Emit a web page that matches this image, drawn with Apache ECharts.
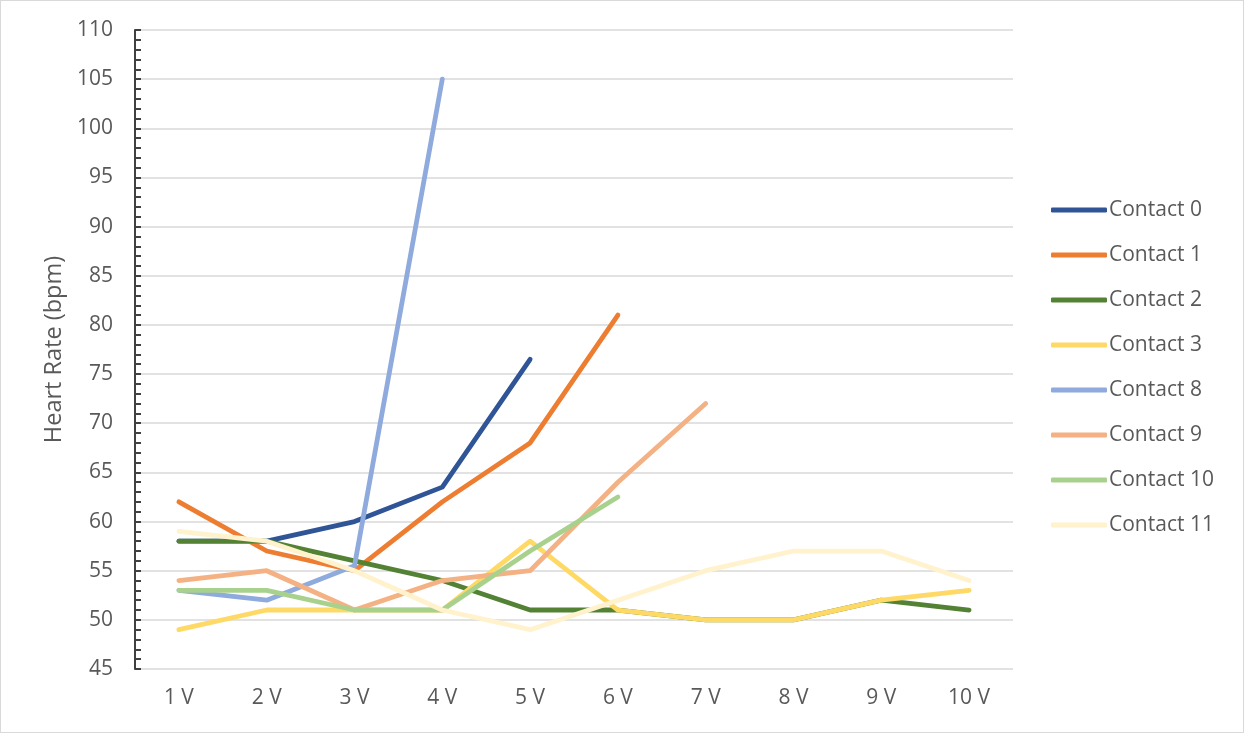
<!DOCTYPE html>
<html><head><meta charset="utf-8">
<script src="https://cdn.jsdelivr.net/npm/echarts@6/dist/echarts.min.js"></script>
<style>html,body{margin:0;padding:0;background:#fff}#c{width:1242px;height:731px;border:1px solid #d9d9d9}</style>
</head><body><div id="c"></div>
<script>
const categories = ['1 V','2 V','3 V','4 V','5 V','6 V','7 V','8 V','9 V','10 V'];
const seriesNames = ['Contact 0','Contact 1','Contact 2','Contact 3','Contact 8','Contact 9','Contact 10','Contact 11'];
const contact0 = [58, 58, 60, 63.5, 76.5, null, null, null, null, null];
const contact1 = [62, 57, 55, 62, 68, 81, null, null, null, null];
const contact2 = [58, 58, 56, 54, 51, 51, 50, 50, 52, 51];
const contact3 = [49, 51, 51, 51, 58, 51, 50, 50, 52, 53];
const contact8 = [53, 52, 55.5, 105, null, null, null, null, null, null];
const contact9 = [54, 55, 51, 54, 55, 64, 72, null, null, null];
const contact10 = [53, 53, 51, 51, 57, 62.5, null, null, null, null];
const contact11 = [59, 58, 55, 51, 49, 52, 55, 57, 57, 54];
const seriesData = [contact0, contact1, contact2, contact3, contact8, contact9, contact10, contact11];
const colors = ['#2F5597','#ED7D31','#548235','#FFD966','#8FAADC','#F4B183','#A9D18E','#FFF2CC'];

const chart = echarts.init(document.getElementById('c'));
chart.setOption({
  animation: false,
  color: colors,
  textStyle: {fontFamily: 'Open Sans, Noto Sans, sans-serif'},
  grid: {left: 134, right: 230, top: 29, bottom: 63},
  legend: {
    orient: 'vertical', left: 1045, top: 191, itemGap: 19,
    itemWidth: 56, itemHeight: 5, icon: 'roundRect',
    textStyle: {color: '#595959', fontSize: 21, lineHeight: 26, padding: [0,0,0,-3]},
    data: seriesNames
  },
  xAxis: {
    type: 'category', data: categories,
    axisLine: {show: false}, axisTick: {show: false},
    axisLabel: {color: '#595959', fontSize: 21, margin: 19}
  },
  yAxis: {
    type: 'value', min: 45, max: 110, interval: 5,
    name: 'Heart Rate (bpm)', nameLocation: 'middle', nameGap: 69,
    nameTextStyle: {color: '#595959', fontSize: 23.5},
    axisLine: {show: true, lineStyle: {color: '#404040', width: 2}},
    axisTick: {show: true, inside: true, length: 6, lineStyle: {color: '#404040', width: 2}},
    minorTick: {show: true, splitNumber: 5, length: 6, lineStyle: {color: '#404040', width: 2}},
    axisLabel: {color: '#595959', fontSize: 21, margin: 22},
    splitLine: {lineStyle: {color: '#d9d9d9', width: 1.5}}
  },
  series: seriesNames.map((n, i) => ({
    name: n, type: 'line', data: seriesData[i],
    symbol: 'none', connectNulls: false,
    lineStyle: {width: 4.8, color: colors[i], cap: 'round', join: 'round'},
    itemStyle: {color: colors[i]}
  }))
});
</script></body></html>
